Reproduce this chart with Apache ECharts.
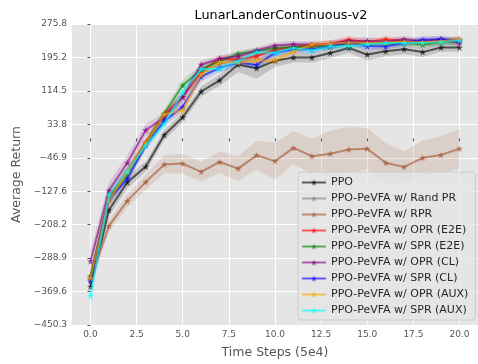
<!DOCTYPE html>
<html>
<head>
<meta charset="utf-8">
<script src="https://cdn.jsdelivr.net/npm/echarts@6/dist/echarts.min.js"></script>
<style>
  html, body { margin: 0; padding: 0; background: #fff; }
  #chart { width: 478px; height: 364px; }
</style>
</head>
<body>
<div id="chart"></div>
<script>
// Training steps (units of 5e4)
const steps = [0, 1, 2, 3, 4, 5, 6, 7, 8, 9, 10, 11, 12, 13, 14, 15, 16, 17, 18, 19, 20];

const xTicks = [0, 2.5, 5, 7.5, 10, 12.5, 15, 17.5, 20];
const yTicks = [-450.3, -369.6, -288.9, -208.2, -127.6, -46.9, 33.8, 114.5, 195.2, 275.8];

const seriesNames = [
  'PPO',
  'PPO-PeVFA w/ Rand PR',
  'PPO-PeVFA w/ RPR',
  'PPO-PeVFA w/ OPR (E2E)',
  'PPO-PeVFA w/ SPR (E2E)',
  'PPO-PeVFA w/ OPR (CL)',
  'PPO-PeVFA w/ SPR (CL)',
  'PPO-PeVFA w/ OPR (AUX)',
  'PPO-PeVFA w/ SPR (AUX)'
];

// Mean returns
const ppoMean    = [-358, -173, -106, -68, 8, 51, 113, 140, 178, 169, 187, 195, 195, 206, 218, 202, 210, 215, 208, 219, 219];
const randPrMean = [-342, -145, -88, -14, 50, 100, 158, 180, 190, 200, 210, 216, 220, 224, 228, 228, 230, 232, 230, 234, 236];
const rprMean    = [-340, -211, -151, -105, -63, -61, -81, -57, -73, -41, -55, -23, -43, -37, -27, -25, -59, -69, -47, -40, -25];
const oprE2eMean = [-335, -142, -80, -9, 58, 100, 162, 192, 190, 198, 214, 221, 224, 228, 238, 232, 239, 234, 230, 233, 239];
const sprE2eMean = [-332, -145, -85, -12, 60, 128, 166, 186, 204, 210, 218, 220, 222, 222, 230, 228, 230, 231, 226, 232, 234];
const oprClMean  = [-297, -126, -59, 20, 50, 100, 178, 192, 198, 212, 224, 227, 226, 228, 234, 235, 233, 239, 234, 239, 230];
const sprClMean  = [-345, -148, -97, -17, 41, 76, 149, 170, 183, 177, 206, 214, 214, 222, 232, 222, 222, 230, 238, 239, 236];
const oprAuxMean = [-338, -149, -82, -12, 58, 67, 154, 184, 182, 188, 188, 210, 226, 228, 231, 230, 231, 233, 232, 234, 239];
const sprAuxMean = [-380, -137, -80, -17, 35, 110, 167, 168, 186, 208, 206, 218, 212, 222, 222, 227, 230, 230, 230, 232, 236];

// Standard deviations (shaded bands)
const ppoStd    = [14, 15, 15, 12, 12, 12, 12, 14, 18, 25, 15, 12, 12, 12, 12, 14, 12, 12, 12, 10, 10];
const randPrStd = [15, 12, 10, 10, 10, 10, 10, 10, 10, 10, 8, 8, 8, 8, 8, 8, 8, 8, 8, 8, 8];
const rprStd    = [20, 15, 15, 18, 22, 24, 24, 26, 30, 35, 45, 40, 42, 55, 55, 50, 48, 38, 42, 45, 48];
const oprE2eStd = [15, 12, 12, 10, 10, 12, 10, 8, 8, 8, 8, 8, 8, 8, 8, 8, 8, 8, 8, 8, 8];
const sprE2eStd = [15, 12, 12, 10, 10, 14, 10, 8, 8, 8, 8, 8, 8, 8, 8, 8, 8, 8, 8, 8, 8];
const oprClStd  = [25, 20, 18, 15, 12, 12, 10, 8, 10, 8, 8, 8, 8, 8, 8, 8, 8, 8, 8, 8, 8];
const sprClStd  = [15, 12, 12, 10, 10, 12, 12, 10, 10, 10, 8, 8, 8, 8, 8, 8, 8, 8, 8, 8, 8];
const oprAuxStd = [15, 12, 12, 10, 10, 12, 10, 8, 8, 8, 8, 8, 8, 8, 8, 8, 8, 8, 8, 8, 8];
const sprAuxStd = [35, 15, 12, 10, 10, 12, 10, 10, 8, 8, 8, 8, 8, 8, 8, 8, 8, 8, 8, 8, 8];

const means = [ppoMean, randPrMean, rprMean, oprE2eMean, sprE2eMean, oprClMean, sprClMean, oprAuxMean, sprAuxMean];
const stds  = [ppoStd, randPrStd, rprStd, oprE2eStd, sprE2eStd, oprClStd, sprClStd, oprAuxStd, sprAuxStd];
const colors = ['#000000', '#808080', '#a0522d', '#ff0000', '#008000', '#800080', '#0000ff', '#ffa500', '#00ffff'];

const starPath = 'path://M0,-10L2.35,-3.24L9.51,-3.09L3.8,1.24L5.88,8.09L0,4L-5.88,8.09L-3.8,1.24L-9.51,-3.09L-2.35,-3.24Z';
const FONT = 'DejaVu Sans';

const fmt = v => {
  const s = Number(v).toFixed(1);
  return s.startsWith('-') ? '\u2212' + s.slice(1) : s;
};

// One filled polygon per run: mean + std along the top, mean - std back along the bottom
function bandRenderer(color) {
  return function (params, api) {
    if (params.dataIndex !== 0) return null;
    const upper = [], lower = [];
    for (let k = 0; k < steps.length; k++) {
      const x = api.value(0, k), lo = api.value(1, k), hi = api.value(2, k);
      upper.push(api.coord([x, hi]));
      lower.push(api.coord([x, lo]));
    }
    return {
      type: 'polygon',
      shape: { points: upper.concat(lower.reverse()) },
      style: { fill: color, opacity: 0.15 },
      silent: true
    };
  };
}

const series = [];
means.forEach((m, i) => {
  const sd = stds[i];
  series.push({
    type: 'custom', name: 'band-' + i,
    data: steps.map((x, k) => [x, m[k] - sd[k], m[k] + sd[k]]),
    encode: { x: 0, y: [1, 2] },
    renderItem: bandRenderer(colors[i]),
    clip: true, silent: true, z: 1
  });
});
means.forEach((m, i) => {
  series.push({
    type: 'line', name: seriesNames[i],
    data: steps.map((x, k) => [x, m[k]]),
    symbol: starPath, symbolSize: 7,
    lineStyle: { color: colors[i], width: 2, opacity: 0.6 },
    itemStyle: { color: colors[i], opacity: 0.6 },
    z: 2 + i
  });
});

const chart = echarts.init(document.getElementById('chart'), null, { renderer: 'canvas' });
chart.setOption({
  animation: false,
  backgroundColor: '#ffffff',
  title: {
    text: 'LunarLanderContinuous-v2',
    left: 276, top: 4, textAlign: 'center',
    textStyle: { fontFamily: FONT, fontSize: 12.8, fontWeight: 'normal', color: '#000' }
  },
  grid: { left: 72, top: 24, right: -3, bottom: 36, show: true, backgroundColor: '#e5e5e5', borderWidth: 0 },
  legend: {
    data: seriesNames,
    orient: 'vertical',
    left: 298, top: 172,
    itemWidth: 24, itemHeight: 8, itemGap: 5,
    padding: [5, 7, 4, 3],
    backgroundColor: 'rgba(229,229,229,0.8)',
    borderColor: '#cccccc', borderWidth: 1, borderRadius: 3,
    textStyle: { fontFamily: FONT, fontSize: 11, color: '#262626' }
  },
  xAxis: {
    type: 'value', min: -1, max: 21,
    name: 'Time Steps (5e4)', nameLocation: 'middle', nameGap: 21,
    nameTextStyle: { fontFamily: FONT, fontSize: 12.5, color: '#555' },
    axisLine: { show: false },
    axisTick: { show: true, customValues: xTicks, length: 3, lineStyle: { color: '#555' } },
    axisLabel: { customValues: xTicks, formatter: fmt, fontFamily: FONT, fontSize: 9, color: '#555', margin: 5 },
    splitLine: { show: true, lineStyle: { color: '#ffffff', width: 1 } }
  },
  yAxis: {
    type: 'value', min: -450.3, max: 275.8,
    name: 'Average Return', nameLocation: 'middle', nameGap: 48,
    nameTextStyle: { fontFamily: FONT, fontSize: 12.5, color: '#555' },
    axisLine: { show: false },
    axisTick: { show: true, customValues: yTicks, length: 3, lineStyle: { color: '#555' } },
    axisLabel: { customValues: yTicks, formatter: fmt, fontFamily: FONT, fontSize: 9, color: '#555', margin: 5 },
    splitLine: { show: true, lineStyle: { color: '#ffffff', width: 1 } }
  },
  series: series
});
</script>
</body>
</html>
